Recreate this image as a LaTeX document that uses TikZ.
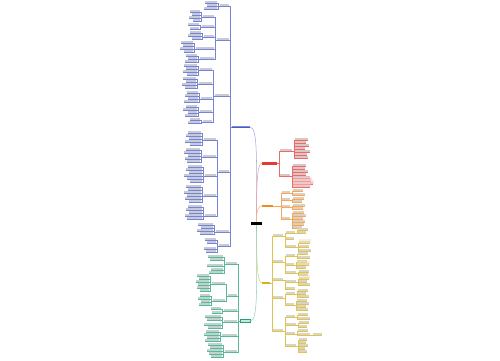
\documentclass[tikz,border=0pt]{standalone}
\definecolor{bl}{HTML}{4A5BC4}
\definecolor{rd}{HTML}{E53935}
\definecolor{orr}{HTML}{F08A1C}
\definecolor{yl}{HTML}{D6B01A}
\definecolor{gr}{HTML}{21A07A}
\tikzset{
 mmtxt/.style={inner sep=0pt, outer sep=0pt, minimum height=0.028cm},
 mmul/.style={line width=0.2pt},
 mmcn/.style={line width=0.2pt},
 mmmain/.style={line width=0.3pt},
}
% text bar with underline: name x1 x2 y colour
\newcommand\mmt[5]{\node[mmtxt, fill={#5!35!gray!38}, minimum width={(#3-#2)*0.02cm}] (#1) at ({(#2+#3)/2},{#4-0.9}) {};\draw[#5!75, mmul] (#1.south west) -- (#1.south east);}
% main node: name x1 x2 y fill height
\newcommand\mmm[6]{\node[inner sep=0pt, outer sep=0pt, fill=#5, minimum width={(#3-#2)*0.02cm}, minimum height={#6*0.02cm}] (#1) at ({(#2+#3)/2},#4) {};}
% connectors
\newcommand\mmL[4]{\draw[#3!75, mmcn] (#1) -- ++(-#4,0) |- (#2.south east);}
\newcommand\mmR[4]{\draw[#3!75, mmcn] (#1) -- ++(#4,0) |- (#2.south west);}
\newcommand\mmLl[3]{\foreach \a/\b/\y [count=\i] in {#3} {\mmt{#1-\i}{\a}{\b}{\y}{#2}\mmL{#1.south west}{#1-\i}{#2}{2}}}
\newcommand\mmRl[3]{\foreach \a/\b/\y [count=\i] in {#3} {\mmt{#1-\i}{\a}{\b}{\y}{#2}\mmR{#1.south east}{#1-\i}{#2}{2}}}
\begin{document}
\begin{tikzpicture}[x=0.02cm,y=-0.02cm]
\fill[white] (0,0) rectangle (500,360);
\useasboundingbox (0,0) rectangle (500,360);

% centre
\node[fill=black, inner sep=0pt, minimum width=0.21cm, minimum height=0.065cm] (C) at (256.5,223.3) {};

% main nodes
\mmm{BM}{232}{250}{126.3}{bl!70}{1.6}
\draw[bl, mmul] (BM.south west) -- (BM.south east);
\mmm{RM}{262}{277}{163}{rd}{3.0}
\mmm{OM}{262}{273}{205.7}{orr}{1.6}
\mmm{YM}{262}{270}{283}{yl}{2.6}
\node[draw=gr, fill=gr!25, line width=0.3pt, inner sep=0pt, minimum width=0.2cm, minimum height=0.055cm] (GM) at (245,321) {};

% main curves
\draw[bl!50, mmmain] (C.north) .. controls +(0,-60) and +(8,0) .. (BM.south east);
\draw[rd!50, mmmain] (C.north) .. controls +(0,-35) and +(-5,0) .. (RM.west);
\draw[orr!55, mmmain] (C.north) .. controls +(0,-10) and +(-4,0) .. (OM.west);
\draw[yl!65, mmmain] (C.south) .. controls +(0,35) and +(-5,0) .. (YM.west);
\draw[gr!50, mmmain] (C.south) .. controls +(0,60) and +(8,0) .. (GM.east);

% ---------------- blue branch ----------------
\mmt{B1}{220}{229}{6}{bl} \mmL{BM.south west}{B1}{bl}{2}
\mmLl{B1}{bl}{205/217/3,207/217/6,204/217/9}
\mmt{B2}{217}{229}{40}{bl} \mmL{BM.south west}{B2}{bl}{2}
 \mmt{B2a}{203}{214}{17}{bl} \mmL{B2.south west}{B2a}{bl}{2}
 \mmLl{B2a}{bl}{190/200/12,192/200/15,189/200/18,193/200/21}
 \mmt{B2b}{202}{214}{27}{bl} \mmL{B2.south west}{B2b}{bl}{2}
 \mmLl{B2b}{bl}{188/199/25,190/199/29}
 \mmt{B2c}{204}{214}{37}{bl} \mmL{B2.south west}{B2c}{bl}{2}
 \mmLl{B2c}{bl}{190/201/33,188/201/36,192/201/39}
 \mmt{B2d}{196}{214}{49}{bl} \mmL{B2.south west}{B2d}{bl}{2}
 \mmLl{B2d}{bl}{181/193/43,183/193/46,180/193/49,184/193/52}
 \mmt{B2e}{200}{214}{59}{bl} \mmL{B2.south west}{B2e}{bl}{2}
 \mmLl{B2e}{bl}{186/197/56,188/197/59,185/197/62}
\mmt{B3}{215}{229}{96}{bl} \mmL{BM.south west}{B3}{bl}{2}
 \mmt{B3a}{200}{212}{70}{bl} \mmL{B3.south west}{B3a}{bl}{2}
 \mmLl{B3a}{bl}{184/197/66,186/197/69,183/197/72,187/197/75}
 \mmt{B3b}{199}{212}{84}{bl} \mmL{B3.south west}{B3b}{bl}{2}
 \mmLl{B3b}{bl}{183/196/79,186/196/82,182/196/85,185/196/88}
 \mmt{B3c}{201}{212}{99}{bl} \mmL{B3.south west}{B3c}{bl}{2}
 \mmLl{B3c}{bl}{187/198/93,185/198/96,188/198/99,184/198/102}
 \mmt{B3d}{200}{212}{112}{bl} \mmL{B3.south west}{B3d}{bl}{2}
 \mmLl{B3d}{bl}{186/197/107,183/197/110,188/197/113,185/197/116}
 \mmt{B3e}{203}{212}{122}{bl} \mmL{B3.south west}{B3e}{bl}{2}
 \mmLl{B3e}{bl}{190/200/120,188/200/123}
\mmt{B4}{219}{229}{172}{bl} \mmL{BM.south west}{B4}{bl}{2}
 \mmt{B4a}{204}{216}{140}{bl} \mmL{B4.south west}{B4a}{bl}{2}
 \mmLl{B4a}{bl}{188/201/133,186/201/136,189/201/139,185/201/142,190/201/145}
 \mmt{B4b}{203}{216}{157}{bl} \mmL{B4.south west}{B4b}{bl}{2}
 \mmLl{B4b}{bl}{186/200/150,184/200/153,188/200/156,185/200/159,187/200/162}
 \mmt{B4c}{205}{216}{176}{bl} \mmL{B4.south west}{B4c}{bl}{2}
 \mmLl{B4c}{bl}{188/202/167,186/202/170,189/202/173,184/202/176,187/202/179,190/202/182}
 \mmt{B4d}{204}{216}{196}{bl} \mmL{B4.south west}{B4d}{bl}{2}
 \mmLl{B4d}{bl}{186/201/187,188/201/190,184/201/193,187/201/196,185/201/199,189/201/202}
 \mmt{B4e}{205}{216}{216}{bl} \mmL{B4.south west}{B4e}{bl}{2}
 \mmLl{B4e}{bl}{188/202/207,186/202/210,189/202/213,185/202/216,187/202/219}
\mmt{B5}{216}{229}{232}{bl} \mmL{BM.south west}{B5}{bl}{2}
\mmLl{B5}{bl}{198/213/225,201/213/228,197/213/231,200/213/234}
\mmt{B6}{219}{229}{246}{bl} \mmL{BM.south west}{B6}{bl}{2}
\mmLl{B6}{bl}{205/216/240,207/216/243,204/216/249,206/216/252}

% ---------------- green branch ----------------
\mmt{G1}{226}{237}{264}{gr} \mmL{GM.west}{G1}{gr}{2}
\mmLl{G1}{gr}{208/223/257,210/223/260,207/223/266,211/223/270,209/223/273}
\mmt{G2}{228}{237}{296}{gr} \mmL{GM.west}{G2}{gr}{2}
 \mmt{G2a}{212}{225}{284}{gr} \mmL{G2.south west}{G2a}{gr}{2}
 \mmLl{G2a}{gr}{197/209/276,199/209/279,196/209/282,198/209/285,197/209/288,200/209/291}
 \mmt{G2b}{213}{225}{301}{gr} \mmL{G2.south west}{G2b}{gr}{2}
 \mmLl{G2b}{gr}{200/210/296,198/210/299,201/210/302,199/210/305}
\mmt{G3}{224}{237}{311}{gr} \mmL{GM.west}{G3}{gr}{2}
\mmLl{G3}{gr}{211/221/309,212/221/313}
\mmt{G4}{224}{237}{322}{gr} \mmL{GM.west}{G4}{gr}{2}
\mmLl{G4}{gr}{205/221/317,207/221/320,204/221/325,208/221/328}
\mmt{G5}{222}{237}{336}{gr} \mmL{GM.west}{G5}{gr}{2}
\mmLl{G5}{gr}{206/219/332,204/219/335,207/219/338,205/219/341}
\mmt{G6}{225}{237}{352}{gr} \mmL{GM.west}{G6}{gr}{2}
\mmLl{G6}{gr}{208/222/345,210/222/348,207/222/351,209/222/354,211/222/357}

% ---------------- red branch ----------------
\mmt{R1}{280}{292}{151}{rd} \mmR{RM.east}{R1}{rd}{2}
\mmRl{R1}{rd}{295/308/140,295/306/143,295/309/146,295/305/149,295/310/152,295/307/155,295/308/158}
\mmt{R2}{280}{290}{176}{rd} \mmR{RM.east}{R2}{rd}{2}
\mmRl{R2}{rd}{293/306/166,293/305/169,293/308/172,293/306/175,293/310/178,293/311/181,293/313/184,293/310/187}
\foreach \n in {R2-6,R2-7,R2-8}{\fill[rd!25, opacity=0.5] ([shift={(-0.5,0.3)}]\n.south west) rectangle ([shift={(0.5,-2.0)}]\n.north east);}

% ---------------- orange branch ----------------
\mmt{O1}{282}{290}{193}{orr} \mmR{OM.east}{O1}{orr}{8}
\mmRl{O1}{orr}{293/303/191,293/305/195}
\mmt{O2}{282}{290}{200}{orr} \mmR{OM.east}{O2}{orr}{8}
\mmRl{O2}{orr}{293/304/199,293/302/202}
\mmt{O3}{282}{290}{207}{orr} \mmR{OM.east}{O3}{orr}{8}
\mmRl{O3}{orr}{293/305/206,293/303/209}
\mmt{O4}{282}{290}{219}{orr} \mmR{OM.east}{O4}{orr}{8}
\mmRl{O4}{orr}{293/304/213,293/306/216,293/303/219,293/305/222,293/304/225,293/302/228}

% ---------------- yellow branch ----------------
\mmt{Y1}{273}{283}{236}{yl} \mmR{YM.east}{Y1}{yl}{2}
 \mmt{Y1a}{286}{295}{233}{yl} \mmR{Y1.south east}{Y1a}{yl}{2}
 \mmRl{Y1a}{yl}{298/308/230,298/306/233}
 \mmt{Y1b}{286}{294}{239}{yl} \mmR{Y1.south east}{Y1b}{yl}{2}
 \mmt{Y1c}{286}{296}{247}{yl} \mmR{Y1.south east}{Y1c}{yl}{2}
 \mmRl{Y1c}{yl}{299/310/243,299/309/247,299/311/251}
\mmt{Y2}{273}{283}{262}{yl} \mmR{YM.east}{Y2}{yl}{2}
 \mmt{Y2a}{286}{295}{256}{yl} \mmR{Y2.south east}{Y2a}{yl}{2}
 \mmRl{Y2a}{yl}{298/308/254,298/310/258}
 \mmt{Y2b}{286}{294}{265}{yl} \mmR{Y2.south east}{Y2b}{yl}{2}
 \mmRl{Y2b}{yl}{297/307/262,297/309/265,297/306/268}
 \mmt{Y2c}{286}{296}{273}{yl} \mmR{Y2.south east}{Y2c}{yl}{2}
 \mmRl{Y2c}{yl}{299/309/272,299/308/275}
\mmt{Y3}{273}{283}{280}{yl} \mmR{YM.east}{Y3}{yl}{2}
 \mmt{Y3a}{286}{296}{282}{yl} \mmR{Y3.south east}{Y3a}{yl}{2}
 \mmRl{Y3a}{yl}{299/309/279,299/307/282,299/310/285}
 \mmt{Y3b}{286}{295}{289}{yl} \mmR{Y3.south east}{Y3b}{yl}{2}
\mmt{Y4}{273}{283}{298}{yl} \mmR{YM.east}{Y4}{yl}{2}
 \mmt{Y4a}{286}{295}{294}{yl} \mmR{Y4.south east}{Y4a}{yl}{2}
 \mmRl{Y4a}{yl}{298/308/291,298/306/294,298/309/297}
 \mmt{Y4b}{286}{294}{305}{yl} \mmR{Y4.south east}{Y4b}{yl}{2}
 \mmRl{Y4b}{yl}{297/307/301,297/309/304,297/306/307,297/308/310}
\mmt{Y5}{273}{283}{331}{yl} \mmR{YM.east}{Y5}{yl}{2}
 \mmt{Y5a}{286}{295}{317}{yl} \mmR{Y5.south east}{Y5a}{yl}{2}
 \mmRl{Y5a}{yl}{298/308/315,298/310/319}
 \mmt{Y5b}{286}{296}{325}{yl} \mmR{Y5.south east}{Y5b}{yl}{2}
 \mmRl{Y5b}{yl}{299/309/323,299/307/327}
 \mmt{Y5c}{286}{295}{334}{yl} \mmR{Y5.south east}{Y5c}{yl}{2}
 \mmRl{Y5c}{yl}{298/308/331,298/310/335}
 \mmt{Y5e}{313}{322}{335}{yl} \mmR{Y5c-2.south east}{Y5e}{yl}{2}
 \mmt{Y5d}{286}{296}{346}{yl} \mmR{Y5.south east}{Y5d}{yl}{2}
 \mmRl{Y5d}{yl}{299/307/340,299/306/343,299/308/346,299/305/349,299/307/352}
\foreach \n in {Y1c-1,Y2b-2,Y3a-1}{\fill[yl!35, opacity=0.5] ([shift={(-0.5,0.3)}]\n.south west) rectangle ([shift={(0.5,-2.0)}]\n.north east);}
\end{tikzpicture}
\end{document}
